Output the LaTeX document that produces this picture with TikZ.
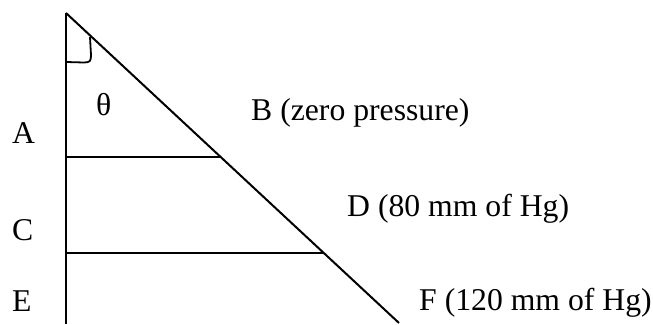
\documentclass[tikz,border=0pt]{standalone}
\usepackage{fontspec}
\setmainfont{Liberation Serif}
\begin{document}
\begin{tikzpicture}[x=1pt,y=-1pt,
  edge/.style={line width=2pt,line cap=butt},
  lbl/.style={inner sep=0pt,anchor=base west,font=\fontsize{31.7}{36}\selectfont}]
\useasboundingbox (0,0) rectangle (653,324);
% frame points
\coordinate (top) at (66,13);
\coordinate (bot) at (66,324);
\coordinate (tip) at (399,323);
\coordinate (h1l) at (66,157);
\coordinate (h1r) at (221,157);
\coordinate (h2l) at (66,253);
\coordinate (h2r) at (324,253);
\coordinate (a1) at (66,62);
\coordinate (a2) at (90,37);
% lines
\draw[edge] (top) -- (bot);
\draw[edge] (top) -- (tip);
\draw[edge] (h1l) -- (h1r);
\draw[edge] (h2l) -- (h2r);
% angle mark
\draw[line width=1.8pt] (a1) -- (84,62.5) .. controls (90,62.5) and (91,61) .. (91,55) -- (a2);
% labels
\node[lbl] (A) at (12,143) {A};
\node[lbl] (C) at (12,240) {C};
\node[lbl] (E) at (12,311) {E};
\node[lbl] (th) at (96,115) {θ};
\node[lbl] (B) at (251,120) {B (zero pressure)};
\node[lbl] (D) at (347,216) {D (80 mm of Hg)};
\node[lbl] (F) at (419,310) {F (120 mm of Hg)};
\end{tikzpicture}
\end{document}
